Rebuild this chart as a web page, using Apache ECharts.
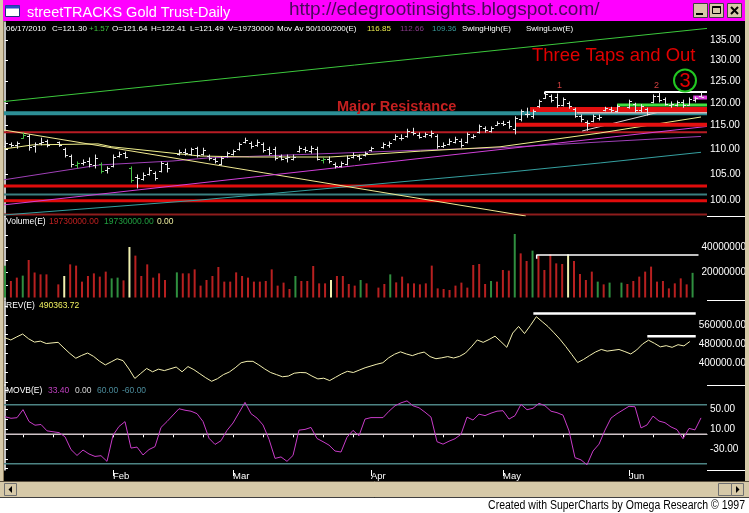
<!DOCTYPE html>
<html>
<head>
<meta charset="utf-8">
<title>streetTRACKS Gold Trust-Daily</title>
<script src="https://cdn.jsdelivr.net/npm/echarts@6.0.0/dist/echarts.min.js"></script>
<style>
  html, body { margin: 0; padding: 0; background: #fff; }
  #chart { width: 749px; height: 513px; }
</style>
</head>
<body>
<div id="chart"></div>
<script>
// one slot per weekday, 06 Jan 2010 .. 17 Jun 2010 (holidays left empty)
const monthStartSlots = [18, 38, 61, 83, 104];
const monthNames = ['Feb', 'Mar', 'Apr', 'May', 'Jun'];
const weekTickSlots = [3, 8, 13, 18, 23, 28, 33, 38, 43, 48, 53, 58, 63, 68, 73, 78, 83, 88, 93, 98, 103, 108, 113];

const barOpen = [
  110.6,111.0,110.8,112.4,112.8,110.6,111.2,111.7,null,111.4,
  110.0,108.6,106.8,107.2,107.6,106.8,107.0,105.8,106.6,108.6,
  109.2,106.2,104.4,104.0,105.0,105.2,105.6,106.9,null,109.0,
  109.4,109.0,110.2,109.0,108.6,108.0,107.0,108.6,109.0,110.0,
  111.5,111.3,110.8,111.0,110.0,110.0,108.6,108.2,108.0,109.6,
  110.0,109.6,110.0,107.8,108.0,107.0,106.6,107.0,108.4,108.6,
  108.8,109.8,null,110.4,110.8,112.2,112.4,112.8,113.6,113.0,
  112.8,113.0,112.8,110.6,111.0,111.6,111.8,111.4,112.6,113.6,
  114.4,113.8,115.2,115.6,115.8,114.2,116.4,117.4,117.0,119.2,
  121.2,121.6,121.4,119.6,120.0,118.6,117.0,115.8,116.0,116.6,
  118.4,118.6,118.2,null,119.0,119.8,118.4,118.6,120.2,121.6,
  120.8,119.4,119.6,120.2,119.6,120.6,121.64
];
const barHigh = [
  111.6,111.3,111.5,113.4,113.0,111.3,112.3,111.9,null,111.5,
  110.2,108.8,107.4,107.8,108.2,108.8,107.2,106.4,108.8,109.4,
  109.4,106.4,104.8,105.2,106.2,105.4,107.4,107.2,null,109.8,
  110.0,110.2,110.4,110.2,108.8,108.2,108.4,109.4,109.8,111.3,
  112.3,111.5,111.9,111.3,110.4,110.4,108.8,108.8,108.8,110.6,
  110.4,110.6,110.4,108.2,108.4,107.2,107.4,108.6,109.2,108.8,
  109.4,110.4,null,111.3,111.5,113.0,113.0,114.2,114.4,113.4,
  113.4,113.8,113.0,111.3,112.1,112.5,112.1,113.4,113.0,115.1,
  114.7,114.7,115.8,115.9,116.0,116.9,118.4,118.8,118.4,120.6,
  122.4,121.8,122.0,121.1,120.2,118.8,117.3,116.0,117.3,117.3,
  119.0,119.0,119.5,null,120.6,119.9,119.6,118.8,121.8,122.4,
  121.1,120.2,120.4,120.6,121.1,121.3,122.41
];
const barLow = [
  110.2,110.5,110.2,112.3,109.8,109.4,110.9,110.5,null,110.6,
  108.4,106.4,106.2,106.8,106.4,106.2,105.2,105.2,106.4,108.4,
  108.2,103.4,102.3,103.8,104.8,103.8,105.4,105.4,null,108.8,
  108.8,108.8,108.4,108.8,107.8,107.2,106.8,108.4,108.8,109.8,
  111.3,110.2,110.6,109.4,108.8,107.8,107.8,107.4,107.8,109.4,
  109.4,109.2,107.8,107.2,107.2,106.2,106.4,106.8,108.2,107.8,
  108.6,109.6,null,110.2,110.4,111.9,111.9,112.5,113.0,112.3,
  112.5,112.5,110.2,110.4,110.9,111.3,110.4,111.3,112.3,113.4,
  113.6,113.6,115.1,115.0,114.4,113.2,116.0,116.8,116.6,119.0,
  121.0,120.2,119.0,119.3,118.8,116.8,115.8,114.0,115.8,116.2,
  118.2,118.0,118.0,null,118.8,118.0,118.0,117.3,120.0,120.2,
  119.5,119.0,119.3,119.0,119.5,120.2,121.43
];
const barClose = [
  111.2,110.8,111.3,113.0,110.4,111.0,111.6,110.9,null,110.9,
  108.8,107.0,107.1,107.4,106.9,108.3,105.6,106.1,108.5,109.1,
  108.4,103.8,104.2,104.9,105.8,104.3,107.1,106.2,null,109.5,
  109.3,110.0,108.8,109.9,108.1,107.6,108.2,109.2,109.6,111.0,
  112.0,110.6,111.5,109.8,109.2,108.2,108.0,108.5,108.4,110.3,
  109.8,110.2,108.0,108.0,107.5,106.5,107.1,108.3,108.9,108.1,
  109.2,110.2,null,111.0,111.2,112.7,112.3,113.9,113.4,112.6,
  113.1,113.3,110.6,110.9,111.8,112.2,110.8,113.1,112.8,114.9,
  114.0,114.5,115.6,115.3,114.8,116.7,118.1,117.6,118.2,120.4,
  122.1,120.6,119.4,120.8,119.2,117.1,116.4,115.6,117.0,116.8,
  118.8,118.3,119.3,null,120.3,118.4,119.2,117.6,121.5,120.6,
  119.8,119.8,120.1,119.4,120.9,121.0,121.30
];
const greenBarSlots = [3, 12, 16, 21, 53];

// volume, millions of shares
const volumeM = [
  25.4,13.2,15.9,17.5,30.0,20.0,18.5,18.5,null,10.5,
  17.2,26.5,25.5,12.7,17.2,19.3,16.7,20.7,15.3,15.9,
  13.7,40.4,33.5,17.2,26.5,15.9,19.3,14.0,null,20.1,
  19.3,19.3,22.5,9.5,14.0,17.2,24.4,12.7,12.7,20.1,
  17.2,15.9,12.7,12.7,13.2,22.5,9.5,11.9,6.8,17.2,
  13.2,13.2,25.2,11.3,11.3,14.0,17.2,17.2,10.8,9.5,
  14.0,11.3,null,7.9,10.8,18.5,12.1,16.7,11.3,11.3,
  10.5,11.3,25.5,7.3,6.8,6.0,9.5,11.9,7.9,26.0,
  26.8,10.8,13.2,12.7,22.0,21.5,50.8,35.3,29.2,37.5,
  33.5,22.0,34.5,27.3,26.8,34.5,29.2,18.8,14.0,20.7,
  12.7,10.5,11.9,null,11.9,10.8,13.2,16.7,20.7,24.7,
  12.7,13.2,7.3,11.3,15.3,10.5,19.73
];
const greenVolSlots = [0, 3, 18, 19, 29, 49, 60, 65, 82, 86, 89, 100, 102, 104, 116];
const yellowVolSlots = [10, 21, 55, 95];

// REV indicator, thousands
const revK = [
  506,497,510,522,502,488,492,482,null,487,
  463,440,420,432,442,428,408,392,405,418,
  410,375,335,356,377,363,374,368,null,383,
  363,385,372,355,338,323,334,351,362,380,
  401,407,407,392,375,360,351,342,345,357,
  360,359,345,333,336,326,340,354,365,360,
  370,380,null,395,401,422,437,447,438,431,
  440,446,427,418,422,427,421,428,442,468,
  497,487,499,513,490,466,526,554,524,558,
  595,574,553,527,500,469,436,402,415,431,
  446,457,450,null,457,448,438,455,480,496,
  483,468,473,466,477,472,490.36
];

// MOVB oscillator
const movb = [
  35.8,32.6,33.8,50.2,26,18.5,20,7,null,3.4,
  -5,-31,-43,-32,-40,-45,-43.5,-55,-2,16,
  25.8,-28,-26,-42,-31,-25,14,26,null,52,
  49,47,42,26,-8,-20.6,-13,8,23,44,
  65,42,33,19,-10,-49,-46,-55,-43,8.5,
  10,14,-8.5,-15,-22,-34,-36,-6,8,-3,
  31,34,null,34,47,58,64,68,58,54,
  45,35,-15,-20,-14,-9,0,35,29,41,
  38,43,47,48,31,38,61,50,53,63,
  58,47,44,39,7,-47.6,-52,-62,-34,-20,
  8.6,33,42,null,57,56,13,19,37,27,
  23.6,15,9.5,-9,12,9,33.4
];

// moving averages and drawn lines, [slot, price]
const ma50 = [[-0.5,110.0],[4.7,110.9],[15.5,111.1],[17.8,110.5],[32.5,108.6],[40.8,108.4],[54.2,108.4],[69.2,109.6],[82.5,110.5],[99.2,113.4],[116,116.85]];
const ma100 = [[-0.5,103.8],[15.8,106.8],[28,107.6],[33.7,108.2],[69.2,109.8],[82.5,110.3],[99.2,111.5],[116,112.66]];
const ma200 = [[-0.5,97.2],[32.5,100.0],[69.2,103.8],[82.5,105.2],[99.2,107.2],[116,109.36]];
const upperTrend = [[-0.5,120.25],[117,137.98]];
const fallingTrend = [[-0.5,114.1],[86.8,97.04]];
const risingTrend = [[-0.5,99.05],[117,114.8]];
const swingLowTrend = [[96.2,113.82],[108.7,117.84]];

const resistanceLevel = 117.66;
const redThinLevels = [113.54, 97.32];
const redThickLevels = [102.66, 99.87];
const tealThinLevel = 101.04;
// [start slot, price]
const redBands = [[87.5, 118.5], [85, 115.17]];
const greenBand = [102, 119.5];
const grayLevel = [95.3, 117.84];
const magentaBand = [114.7, 121.2];
const swingHigh = [90, 122.46];
const volSwing = [89.7, 34];
const revSwings = [[89.5, 608.4], [108.8, 512.8]];
const movbLevels = [60, 0, -60];

const priceTicks = [100, 105, 110, 115, 120, 125, 130, 135];

const LN = Math.log;
const X_MIN = -0.5, X_MAX = 117;
const FONT = '"Liberation Sans", Arial, sans-serif';

function lineS(points, color, width, grid, z) {
  return {
    type: 'line', xAxisIndex: grid, yAxisIndex: grid, data: points,
    symbol: 'none', silent: true, animation: false, z: z || 3,
    lineStyle: { color: color, width: width }
  };
}
const priceLine = (pts, color, w, z) => lineS(pts.map(p => [p[0], LN(p[1])]), color, w, 0, z);
const priceLevel = (from, price, color, w, z) => priceLine([[from, price], [X_MAX, price]], color, w, z);

const ohlcData = [];
barOpen.forEach((o, i) => {
  if (o == null) return;
  ohlcData.push([i, LN(o), LN(barHigh[i]), LN(barLow[i]), LN(barClose[i])]);
});

function renderOHLC(params, api) {
  const s = api.value(0);
  const h = api.coord([s, api.value(2)]);
  const l = api.coord([s, api.value(3)]);
  const o = api.coord([s, api.value(1)]);
  const c = api.coord([s, api.value(4)]);
  const x = Math.round(h[0]) + 0.5;
  const col = greenBarSlots.indexOf(s) >= 0 ? '#46c046' : '#e8e8e8';
  const st = { stroke: col, lineWidth: 1 };
  return {
    type: 'group', children: [
      { type: 'line', shape: { x1: x, y1: h[1] - 0.5, x2: x, y2: l[1] + 0.5 }, style: st },
      { type: 'line', shape: { x1: x - 2.5, y1: Math.round(o[1]) + 0.5, x2: x, y2: Math.round(o[1]) + 0.5 }, style: st },
      { type: 'line', shape: { x1: x, y1: Math.round(c[1]) + 0.5, x2: x + 2.5, y2: Math.round(c[1]) + 0.5 }, style: st }
    ]
  };
}

const volData = [];
volumeM.forEach((v, i) => {
  if (v == null) return;
  let col = '#b82020';
  if (greenVolSlots.indexOf(i) >= 0) col = '#2f8f3f';
  if (yellowVolSlots.indexOf(i) >= 0) col = '#f0f0b0';
  volData.push({ value: [i, v], itemStyle: { color: col } });
});
const revData = [];
revK.forEach((v, i) => { if (v != null) revData.push([i, v]); });
const movbData = [];
movb.forEach((v, i) => { if (v != null) movbData.push([i, v]); });

const grids = [
  { left: 2, right: 42, top: 22, height: 194 },
  { left: 2, right: 42, top: 216, height: 84 },
  { left: 2, right: 42, top: 301, height: 84 },
  { left: 2, right: 42, top: 385, height: 85 }
];

const hiddenX = g => ({ gridIndex: g, type: 'value', min: X_MIN, max: X_MAX, show: false });

function rightY(g, min, max, tickVals, labelVals, fmt) {
  return {
    gridIndex: g, type: 'value', position: 'right', min: min, max: max,
    axisLine: { show: true, lineStyle: { color: '#ffffff', width: 1.5 } },
    axisTick: { show: true, customValues: tickVals, length: 3, lineStyle: { color: '#ffffff' } },
    axisLabel: {
      show: true, customValues: labelVals, formatter: fmt, color: '#ffffff',
      fontSize: 10, fontFamily: FONT, margin: 3, align: 'left'
    },
    splitLine: { show: false }
  };
}

const series = [
  // price panel levels
  priceLevel(X_MIN, resistanceLevel, '#2d8f96', 4, 2),
  priceLevel(X_MIN, redThinLevels[0], '#b81c24', 2, 2),
  priceLevel(X_MIN, redThinLevels[1], '#8e1c1c', 2, 2),
  priceLevel(X_MIN, redThickLevels[0], '#e00c0c', 3, 2),
  priceLevel(X_MIN, tealThinLevel, '#3a7f80', 2, 2),
  priceLevel(X_MIN, redThickLevels[1], '#e00c0c', 3, 2),
  // moving averages
  priceLine(ma200, '#35a0a0', 1, 4),
  priceLine(ma100, '#a040b8', 1, 4),
  priceLine(ma50, '#f0f08c', 1, 4),
  // trendlines
  priceLine(upperTrend, '#3cc83c', 1, 5),
  priceLine(fallingTrend, '#f0e890', 1, 5),
  priceLine(risingTrend, '#d040d8', 1, 5),
  priceLine(swingLowTrend, '#e0d8d8', 1, 5),
  // right-hand bands
  priceLevel(redBands[1][0], redBands[1][1], '#e41010', 4, 6),
  priceLevel(grayLevel[0], grayLevel[1], '#d0b8b8', 2, 6),
  priceLevel(redBands[0][0], redBands[0][1], '#e41010', 5, 6),
  priceLevel(greenBand[0], greenBand[1], '#40e040', 3, 6),
  priceLevel(magentaBand[0], magentaBand[1], '#e040e0', 4, 6),
  priceLine([[swingHigh[0], swingHigh[1] - 0.5], [swingHigh[0], swingHigh[1]], [X_MAX, swingHigh[1]]], '#ffffff', 2, 7),
  {
    type: 'custom', xAxisIndex: 0, yAxisIndex: 0, data: ohlcData, silent: true, z: 10,
    encode: { x: 0, y: [1, 2, 3, 4] }, renderItem: renderOHLC
  },
  // volume
  {
    type: 'bar', xAxisIndex: 1, yAxisIndex: 1, data: volData, barWidth: 2,
    silent: true, animation: false, z: 3
  },
  lineS([[volSwing[0], volSwing[1] - 3], [volSwing[0], volSwing[1]], [X_MAX, volSwing[1]]], '#ffffff', 1.5, 1, 5),
  // REV
  lineS(revData, '#f4f0b0', 1, 2, 4),
  lineS([[revSwings[0][0], revSwings[0][1]], [X_MAX, revSwings[0][1]]], '#ffffff', 2.5, 2, 5),
  lineS([[revSwings[1][0], revSwings[1][1]], [X_MAX, revSwings[1][1]]], '#ffffff', 2.5, 2, 5),
  // MOVB
  lineS([[X_MIN, movbLevels[0]], [X_MAX, movbLevels[0]]], '#4d8484', 1.5, 3, 2),
  lineS([[X_MIN, movbLevels[1]], [X_MAX, movbLevels[1]]], '#cfc4c8', 1.5, 3, 2),
  lineS([[X_MIN, movbLevels[2]], [X_MAX, movbLevels[2]]], '#4d8484', 1.5, 3, 2),
  lineS(movbData, '#c83cc8', 1, 3, 4)
];

function txt(x, y, text, fill, size, extra, elProps) {
  return Object.assign({
    type: 'text', x: x, y: y, z: 100, silent: true,
    style: Object.assign({ text: text, fill: fill, font: size + 'px ' + FONT, align: 'left', verticalAlign: 'middle' }, extra || {})
  }, elProps || {});
}
const rect = (x, y, w, h, fill, stroke, z) => ({
  type: 'rect', z: z || 100, silent: true, shape: { x: x, y: y, width: w, height: h },
  style: { fill: fill, stroke: stroke || null, lineWidth: 1 }
});
const seg = (x1, y1, x2, y2, color, w, z) => ({
  type: 'line', z: z || 100, silent: true, shape: { x1: x1, y1: y1, x2: x2, y2: y2 },
  style: { stroke: color, lineWidth: w || 1 }
});
const TAN = '#d6c9a8';
const STATUS_Y = 28.5;

const graphics = [
  // frame
  rect(0, 0, 749, 21, '#ff00ff'),
  rect(0, 0, 3, 497, TAN),
  rect(745, 0, 4, 497, TAN),
  seg(3.5, 21, 3.5, 481, '#8a7a5a', 1),
  rect(0, 481, 749, 16, TAN),
  seg(0, 481.5, 749, 481.5, '#5a5040', 1),
  seg(0, 497.5, 749, 497.5, '#404040', 1),
  rect(0, 498, 749, 15, '#ffffff'),
  // title bar
  rect(5.5, 5.5, 14, 11, '#ffffff', '#203080'),
  rect(5.5, 5.5, 14, 3, '#2848c8'),
  txt(27, 13, 'streetTRACKS Gold Trust-Daily', '#ffffff', 14.5),
  txt(289, 9.5, 'http://edegrootinsights.blogspot.com/', '#4a0a5a', 19),
  rect(693.5, 3.5, 14, 14, TAN, '#404040'),
  seg(696, 14, 703, 14, '#000', 2),
  rect(709.5, 3.5, 14, 14, TAN, '#404040'),
  rect(712.5, 6.5, 8, 7, null, '#000'),
  seg(712.5, 7, 720.5, 7, '#000', 2),
  rect(727.5, 3.5, 14, 14, TAN, '#404040'),
  seg(731, 7, 738, 14, '#000', 2),
  seg(738, 7, 731, 14, '#000', 2),
  // status line
  txt(6, STATUS_Y, '06/17/2010', '#ffffff', 8),
  txt(52, STATUS_Y, 'C=121.30', '#ffffff', 8),
  txt(89, STATUS_Y, '+1.57', '#40c040', 8),
  txt(112, STATUS_Y, 'O=121.64', '#ffffff', 8),
  txt(151, STATUS_Y, 'H=122.41', '#ffffff', 8),
  txt(190, STATUS_Y, 'L=121.49', '#ffffff', 8),
  txt(228, STATUS_Y, 'V=19730000', '#ffffff', 8),
  txt(277, STATUS_Y, 'Mov Av 50/100/200(E)', '#ffffff', 8),
  txt(367, STATUS_Y, '116.85', '#e8e850', 8),
  txt(400, STATUS_Y, '112.66', '#8a3a8a', 8),
  txt(432, STATUS_Y, '109.36', '#3a9a9a', 8),
  txt(462, STATUS_Y, 'SwingHigh(E)', '#ffffff', 8),
  txt(526, STATUS_Y, 'SwingLow(E)', '#ffffff', 8),
  // panel titles
  txt(6, 222, 'Volume(E)', '#ffffff', 8.5),
  txt(49, 222, '19730000.00', '#c02020', 8.5),
  txt(104, 222, '19730000.00', '#20a040', 8.5),
  txt(157, 222, '0.00', '#f0f0a0', 8.5),
  txt(6, 306, 'REV(E)', '#ffffff', 8.5),
  txt(39, 306, '490363.72', '#f0f060', 8.5),
  txt(6, 390.3, 'MOVB(E)', '#ffffff', 8.5),
  txt(48, 390.3, '33.40', '#c040c0', 8.5),
  txt(75, 390.3, '0.00', '#d8d8d8', 8.5),
  txt(97, 390.3, '60.00', '#4a8a9a', 8.5),
  txt(122, 390.3, '-60.00', '#4a8a9a', 8.5),
  // annotations
  txt(337, 106.5, 'Major Resistance', '#c42020', 14.5, { font: 'bold 14.5px ' + FONT }),
  txt(532, 55.5, 'Three Taps and Out', '#e00000', 18.5),
  { type: 'circle', z: 100, silent: true, shape: { cx: 685, cy: 80.5, r: 11 }, style: { fill: null, stroke: '#22c822', lineWidth: 2 } },
  txt(685, 81, '3', '#e00000', 20, { align: 'center' }),
  txt(557, 86, '1', '#d04040', 9),
  txt(654, 86, '2', '#d04040', 9),
  // right label column separators
  seg(707, 216.5, 745, 216.5, '#ffffff', 1),
  seg(707, 300.5, 745, 300.5, '#ffffff', 1),
  seg(707, 385.5, 745, 385.5, '#ffffff', 1),
  seg(707, 470.5, 745, 470.5, '#ffffff', 1),
  // scroll bar
  rect(4.5, 483.5, 12, 12, TAN, '#707070'),
  { type: 'polygon', z: 101, silent: true, shape: { points: [[12, 486], [12, 493], [8.5, 489.5]] }, style: { fill: '#000' } },
  rect(718.5, 483.5, 13, 12, TAN, '#707070'),
  rect(731.5, 483.5, 12, 12, TAN, '#707070'),
  { type: 'polygon', z: 101, silent: true, shape: { points: [[736, 486], [736, 493], [739.5, 489.5]] }, style: { fill: '#000' } },
  // footer (narrow face)
  txt(745, 506, 'Created with SuperCharts by Omega Research \u00a9 1997', '#000000', 12.5, { align: 'right' }, { scaleX: 0.84 })
];

const chart = echarts.init(document.getElementById('chart'), null, { renderer: 'canvas' });
chart.setOption({
  backgroundColor: '#000000',
  animation: false,
  grid: grids,
  xAxis: [
    hiddenX(0), hiddenX(1), hiddenX(2),
    {
      gridIndex: 3, type: 'value', min: X_MIN, max: X_MAX, position: 'bottom',
      axisLine: { show: true, lineStyle: { color: '#ffffff', width: 1 } },
      axisTick: { show: true, customValues: weekTickSlots, length: 3, lineStyle: { color: '#ffffff' } },
      axisLabel: { show: false }, splitLine: { show: false }
    },
    {
      gridIndex: 3, type: 'value', min: X_MIN, max: X_MAX, position: 'bottom',
      axisLine: { show: false },
      axisTick: { show: true, customValues: monthStartSlots, length: 6, lineStyle: { color: '#ffffff' } },
      axisLabel: {
        show: true, customValues: monthStartSlots,
        formatter: v => monthNames[monthStartSlots.indexOf(v)] || '',
        color: '#ffffff', fontSize: 9.5, fontFamily: FONT, align: 'left', margin: 1
      },
      splitLine: { show: false }
    }
  ],
  yAxis: [
    rightY(0, LN(100) - 16 / 533, LN(100) + 178 / 533, priceTicks.map(LN), priceTicks.map(LN), v => Math.exp(v).toFixed(2)),
    rightY(1, -2, 65.2, [10, 20, 30, 40, 50], [20, 40], v => String(Math.round(v * 1e6))),
    rightY(2, 307.37, 661.05, [320, 360, 400, 440, 480, 520, 560, 600, 640], [400, 480, 560], v => (v * 1000).toFixed(2)),
    rightY(3, -72.6, 100.3, [-70, -50, -30, -10, 10, 30, 50, 70, 90], [-30, 10, 50], v => v.toFixed(2))
  ],
  series: series,
  graphic: { elements: graphics }
});
</script>
</body>
</html>
